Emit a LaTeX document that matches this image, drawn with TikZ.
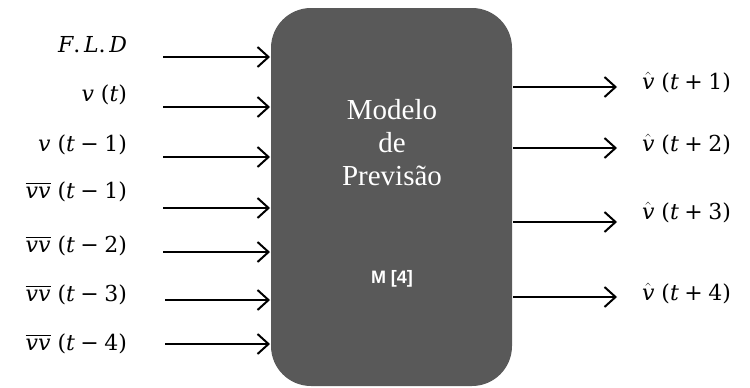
\documentclass[tikz,border=0pt]{standalone}
\usepackage{amsmath}
\usepackage{amssymb}
\usepackage{fontspec}
\newfontfamily\serifmodel{Liberation Serif}
\newfontfamily\sansmodel{Liberation Sans}
\newfontfamily\labelfont{DejaVu Serif}
\usetikzlibrary{positioning, arrows.meta}
\definecolor{boxgray}{HTML}{595959}
\newcommand{\iv}{\textit{v}}
\newcommand{\vbar}{$\overline{\mbox{\itshape vv}}$}
\newcommand{\vhat}{$\hat{\mbox{\itshape v}}$}
\newcommand{\targ}[2]{(\textit{t}\hspace{0.25em}#1\hspace{0.25em}#2)}

\begin{document}
\begin{tikzpicture}[x=1pt,y=-1pt,line width=2pt,>={Straight Barb[length=11pt,width=20pt,line width=2pt]}]
\tikzstyle{model}=[draw=none,fill=boxgray,rounded corners=40pt,minimum width=241pt,minimum height=378pt,inner sep=0pt]
\tikzstyle{inlabel}=[anchor=base east,inner sep=0pt,font=\labelfont\fontsize{22}{26}\selectfont]
\tikzstyle{outlabel}=[anchor=base west,inner sep=0pt,font=\labelfont\fontsize{22}{26}\selectfont]
\useasboundingbox (0,0) rectangle (750,388);

\node[model] (M) at (391.5,197) {};
\node[text=white,align=center,font=\serifmodel\fontsize{29}{33}\selectfont] (T) at (392,143) {Modelo\\de\\Previsão};
\node[text=white,anchor=base,font=\sansmodel\bfseries\fontsize{18}{21}\selectfont] (K) at (392,283) {M [4]};

% entradas
\node[inlabel] (L1) at (128,52) {\textit{F}.\,\textit{L}.\,\textit{D}};
\node[inlabel] (L2) at (128,101) {\iv\ (\textit{t})};
\node[inlabel] (L3) at (128,151) {\iv\ \targ{−}{1}};
\node[inlabel] (L4) at (128,198) {\vbar\ \targ{−}{1}};
\node[inlabel] (L5) at (128,252) {\vbar\ \targ{−}{2}};
\node[inlabel] (L6) at (128,301) {\vbar\ \targ{−}{3}};
\node[inlabel] (L7) at (128,350) {\vbar\ \targ{−}{4}};

\coordinate (I1) at (163,57);
\coordinate (I2) at (163,107);
\coordinate (I3) at (163,157);
\coordinate (I4) at (163,208);
\coordinate (I5) at (163,252);
\coordinate (I6) at (165,300);
\coordinate (I7) at (165,344);
\foreach \i in {1,...,7}
  \draw[->] (I\i) -- (I\i -| M.west);

% saidas
\node[outlabel] (S1) at (641,89) {\vhat\ \targ{+}{1}};
\node[outlabel] (S2) at (641,151) {\vhat\ \targ{+}{2}};
\node[outlabel] (S3) at (641,219) {\vhat\ \targ{+}{3}};
\node[outlabel] (S4) at (641,300) {\vhat\ \targ{+}{4}};

\coordinate (O1) at (617,87);
\coordinate (O2) at (617,148);
\coordinate (O3) at (617,222);
\coordinate (O4) at (617,297);
\foreach \i in {1,...,4}
  \draw[->] (O\i -| M.east) -- (O\i);
\end{tikzpicture}
\end{document}
